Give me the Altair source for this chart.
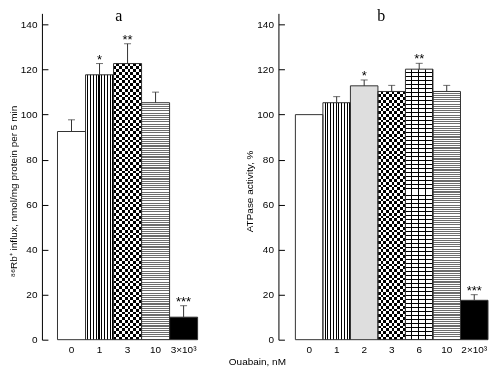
import altair as alt
import pandas as pd

# ---------------- data ----------------
doses_a = ["0", "1", "3", "10", "3×10³"]
vals_a = [92.5, 117.7, 122.7, 105.3, 10.0]
sems_a = [5.2, 5.0, 8.8, 4.7, 5.1]
stars_a = ["", "*", "**", "", "***"]
pats_a = ["white", "vstripe", "checker", "hstripe", "black"]

doses_b = ["0", "1", "2", "3", "6", "10", "2×10³"]
vals_b = [100.0, 105.3, 112.8, 110.3, 120.2, 110.3, 17.5]
sems_b = [0.0, 2.7, 2.6, 2.7, 2.6, 2.7, 2.5]
stars_b = ["", "", "*", "", "**", "", "***"]
pats_b = ["white", "vstripe", "stipple", "checker", "brick", "hstripe", "black"]

y_ticks = [0, 20, 40, 60, 80, 100, 120, 140]

FONT = "Liberation Sans"
SERIF = "Liberation Serif"
YMAX = 145
H = 327
PXU = H / YMAX  # px per unit, only used for pattern density


def stripes(n, frac, c1, c2, along_x):
    n = max(1, int(n))
    stops = []
    for i in range(n):
        a = i / n
        b = (i + frac) / n
        c = (i + 1) / n if i < n - 1 else 1.0
        stops += [
            alt.GradientStop(offset=a, color=c1),
            alt.GradientStop(offset=b, color=c1),
            alt.GradientStop(offset=b, color=c2),
            alt.GradientStop(offset=c, color=c2),
        ]
    if along_x:
        return alt.LinearGradient(gradient="linear", stops=stops, x1=0, x2=1, y1=0, y2=0)
    return alt.LinearGradient(gradient="linear", stops=stops, x1=0, x2=0, y1=0, y2=1)


def fills_for(pat, h):
    if pat == "white":
        return [dict(fill="white")]
    if pat == "black":
        return [dict(fill="black")]
    if pat == "stipple":
        return [dict(fill="#dedede")]
    if pat == "vstripe":
        return [dict(fill=stripes(10, 0.6, "white", "black", True))]
    if pat == "hstripe":
        return [dict(fill=stripes(round(h / 2.2), 0.5, "white", "#6e6e6e", False))]
    if pat == "checker":
        return [
            dict(fill=stripes(5, 0.5, "white", "black", True)),
            dict(fill=stripes(round(h / 5.6), 0.5, "rgba(255,255,255,0)", "white", False),
                 blend="difference"),
        ]
    if pat == "brick":
        return [
            dict(fill=stripes(round(h / 4.0), 0.75, "white", "black", False)),
            dict(fill=stripes(4, 0.85, "rgba(0,0,0,0)", "black", True)),
        ]
    return [dict(fill="white")]


def panel(doses, vals, sems, stars, pats, width, po, title, ytitle, title_dx, title_y):
    df = pd.DataFrame({
        "dose": doses,
        "val": vals,
        "top": [v + s for v, s in zip(vals, sems)],
        "sem": sems,
        "star": stars,
        "idx": list(range(len(doses))),
    })
    xenc = alt.X(
        "dose:N", sort=doses,
        scale=alt.Scale(paddingInner=0, paddingOuter=po, align=1),
        axis=alt.Axis(title=None, domain=False, ticks=False, tickSize=0, labelAngle=0,
                      labelFont=FONT, labelFontSize=10, labelColor="black", labelPadding=5,
                      grid=False),
    )
    yscale = alt.Scale(domain=[0, YMAX], nice=False, zero=True)
    yleft = alt.Axis(title=ytitle, values=y_ticks, ticks=False, tickSize=0, grid=False,
                     domainColor="black", domainWidth=1,
                     labelFont=FONT, labelFontSize=10, labelColor="black", labelPadding=5,
                     titleFont=FONT, titleFontSize=10, titleFontWeight="normal",
                     titleColor="black", titlePadding=2, titleY=title_y)
    base = alt.Chart(df)
    layers = []
    for i, pat in enumerate(pats):
        h = vals[i] * PXU
        sel = base.transform_filter(alt.datum.idx == i)
        for f in fills_for(pat, h):
            layers.append(
                sel.mark_bar(strokeWidth=0, **f).encode(
                    x=xenc, y=alt.Y("val:Q", scale=yscale, axis=yleft)
                )
            )
    # outlines
    layers.append(
        base.mark_bar(fillOpacity=0, stroke="#333333", strokeWidth=1).encode(
            x=xenc, y=alt.Y("val:Q", scale=yscale, axis=yleft)
        )
    )
    err = base.transform_filter(alt.datum.sem > 0)
    layers.append(
        err.mark_rule(color="#333333", strokeWidth=1).encode(
            x=xenc, y=alt.Y("val:Q", scale=yscale, axis=yleft), y2="top:Q"
        )
    )
    layers.append(
        err.mark_tick(color="#333333", thickness=1, size=7, orient="horizontal").encode(
            x=xenc, y=alt.Y("top:Q", scale=yscale, axis=yleft)
        )
    )
    inner = alt.layer(*layers)

    yright = alt.Axis(orient="right", offset=-width, labels=False, domain=False, ticks=True,
                      tickSize=6, tickColor="black", values=y_ticks, title=None, grid=False)
    star_layer = base.mark_text(font=FONT, fontSize=13, color="black", baseline="alphabetic",
                                dy=0).encode(
        x=xenc, y=alt.Y("top:Q", scale=yscale, axis=yright), text="star:N"
    )
    return alt.layer(inner, star_layer).resolve_axis(y="independent").properties(
        width=width, height=H,
        title=alt.TitleParams(title, font=SERIF, fontSize=16, fontWeight="normal",
                              color="black", anchor="middle", baseline="top",
                              offset=-11, dx=title_dx),
    )


pa = panel(doses_a, vals_a, sems_a, stars_a, pats_a, 156, 0.2778, "a",
           "⁸⁶Rb⁺ influx, nmol/mg protein per 5 min", -1, 178)
pb = panel(doses_b, vals_b, sems_b, stars_b, pats_b, 210, 0.308, "b",
           "ATPase activity, %", -2, 178)

chart = alt.hconcat(pa, pb, spacing=46).properties(
    padding=0,
    title=alt.TitleParams("Ouabain, nM", orient="bottom", anchor="middle", font=FONT,
                          fontSize=10, fontWeight="normal", color="black", dx=9, offset=2),
).configure_view(stroke=None)

chart.save("out.html", embed_options={"renderer": "svg", "actions": False})
